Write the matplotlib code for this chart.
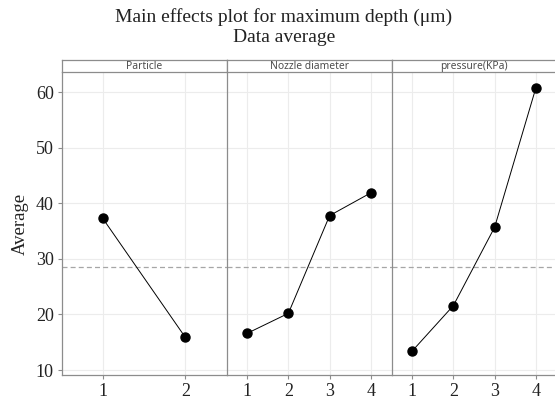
import matplotlib
matplotlib.use("Agg")
import matplotlib.pyplot as plt

# factors and level means
factors = ["Particle", "Nozzle diameter", "pressure(KPa)"]
levels = [[1, 2], [1, 2, 3, 4], [1, 2, 3, 4]]
means = [
    [37.3, 15.9],
    [16.6, 20.2, 37.8, 41.9],
    [13.4, 21.6, 35.7, 60.8],
]
grand_mean = 28.6
y_ticks = [10, 20, 30, 40, 50, 60]

W, H = 555, 401
fig = plt.figure(figsize=(W / 100, H / 100), dpi=100)

serif = ["Liberation Serif", "DejaVu Serif"]
edge = "#8c8c8c"
grid = "#ececec"

# panel geometry in pixels
left, panel_w = 61.5, 165.0
bottom, top = 375.0, 72.3
strip_h = 12.5

axes = []
for i, name in enumerate(factors):
    x0 = left + i * panel_w
    ax = fig.add_axes([x0 / W, 1 - bottom / H, panel_w / W, (bottom - top) / H])
    ax.plot(levels[i], means[i], color="black", lw=0.7, zorder=3)
    ax.plot(levels[i], means[i], "o", color="black", ms=6.5, zorder=4)
    ax.axhline(grand_mean, color="#a6a6a6", lw=0.9, ls=(0, (4, 2.5)), zorder=2)
    ax.set_xlim(0.5, len(levels[i]) + 0.5)
    ax.set_ylim(9.1, 63.6)
    ax.set_xticks(levels[i])
    ax.set_yticks(y_ticks)
    ax.grid(True, color=grid, lw=0.8, zorder=0)
    ax.set_axisbelow(True)
    for s in ["top", "right"]:
        ax.spines[s].set_visible(False)
    ax.spines["left"].set_color(edge)
    ax.spines["bottom"].set_color(edge)
    ax.spines["left"].set_linewidth(0.9)
    ax.spines["bottom"].set_linewidth(0.9)
    ax.tick_params(axis="both", colors=edge, length=3, width=0.8,
                   labelcolor="#222222", labelsize=13, pad=2.5)
    for lab in ax.get_xticklabels() + ax.get_yticklabels():
        lab.set_family(serif)
    if i > 0:
        ax.tick_params(axis="y", left=False, labelleft=False)
    axes.append(ax)

    # facet strip
    sax = fig.add_axes([x0 / W, 1 - top / H, panel_w / W, strip_h / H])
    sax.set_xticks([])
    sax.set_yticks([])
    sax.set_facecolor("white")
    for s in sax.spines.values():
        s.set_color(edge)
        s.set_linewidth(0.9)
    sax.text(0.5, 0.45, name, ha="center", va="center", fontsize=7.4,
             color="#4d4d4d", family=["Noto Sans", "DejaVu Sans"],
             transform=sax.transAxes)

axes[0].set_ylabel("Average", fontsize=13.5, family=serif, color="#222222", labelpad=5)

cx = 284 / W
fig.text(cx, 1 - 17 / H, "Main effects plot for maximum depth (\u03bcm)",
         ha="center", va="center", fontsize=14, family=serif, color="#222222")
fig.text(cx, 1 - 37 / H, "Data average",
         ha="center", va="center", fontsize=14, family=serif, color="#222222")

fig.savefig("out.png", dpi=100)
